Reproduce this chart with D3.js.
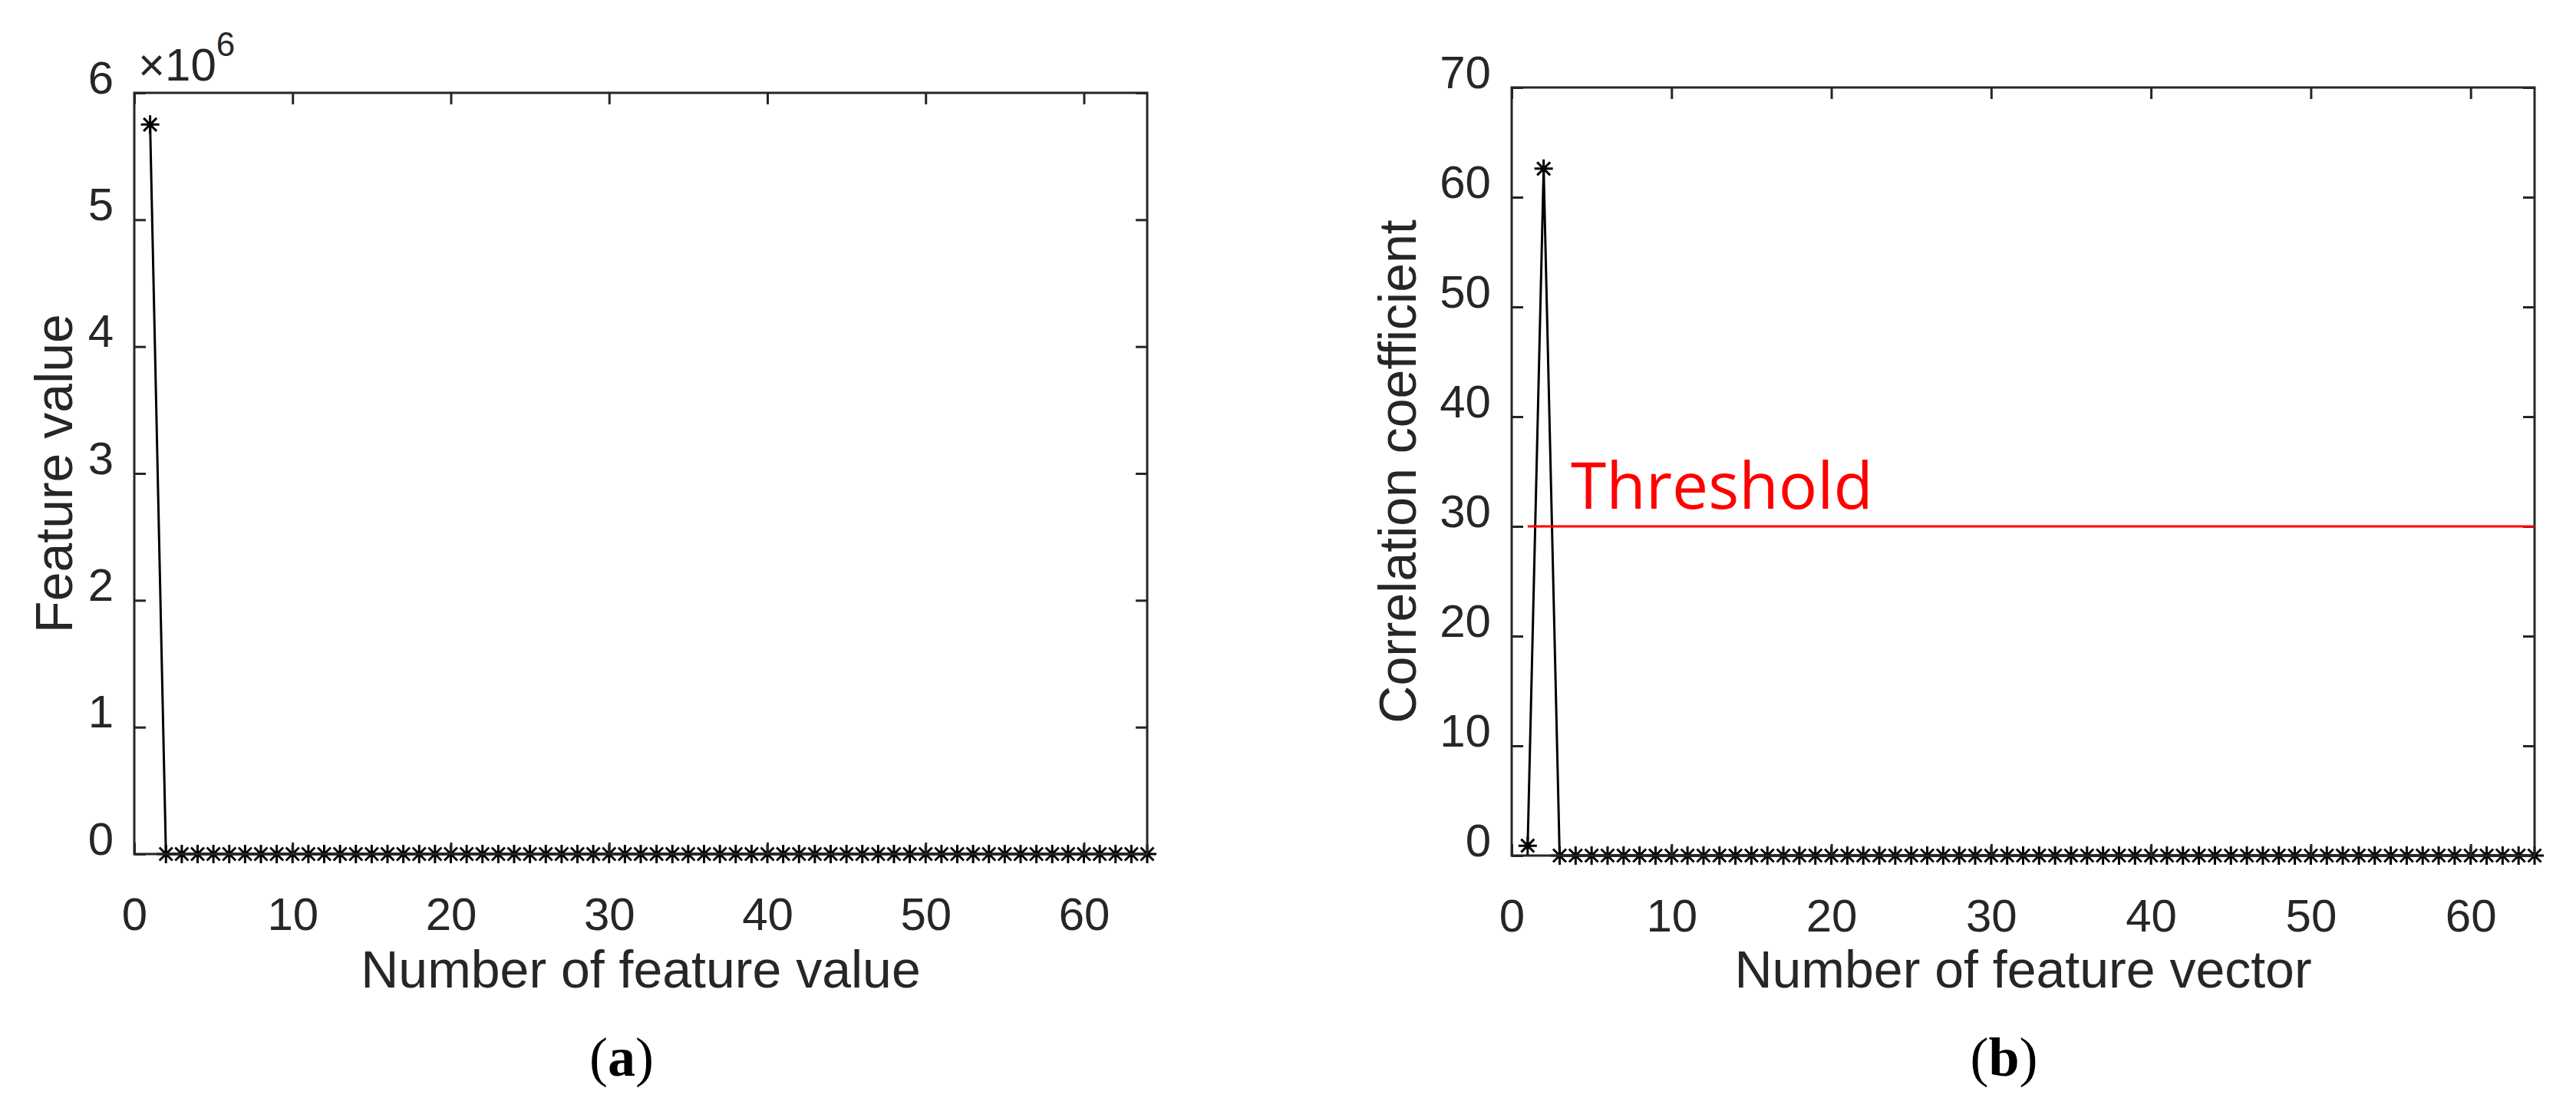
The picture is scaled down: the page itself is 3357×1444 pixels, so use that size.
<!DOCTYPE html>
<html><head><meta charset="utf-8">
<script src="https://cdn.jsdelivr.net/npm/d3@7"></script>
<style>body{margin:0;background:#fff}</style></head>
<body><svg id="c" width="3357" height="1444"></svg>
<script>
const featureValues = [5750000,0,0,0,0,0,0,0,0,0,0,0,0,0,0,0,0,0,0,0,0,0,0,0,0,0,0,0,0,0,0,0,0,0,0,0,0,0,0,0,0,0,0,0,0,0,0,0,0,0,0,0,0,0,0,0,0,0,0,0,0,0,0,0];
const correlationValues = [0.9,62.6,0,0,0,0,0,0,0,0,0,0,0,0,0,0,0,0,0,0,0,0,0,0,0,0,0,0,0,0,0,0,0,0,0,0,0,0,0,0,0,0,0,0,0,0,0,0,0,0,0,0,0,0,0,0,0,0,0,0,0,0,0,0];
const xTicks = [0,10,20,30,40,50,60];
const yTicksA = [0,1,2,3,4,5,6];
const yTicksB = [0,10,20,30,40,50,60,70];
const thresholdValue = 30;

const svg = d3.select("#c");
const AX = "#262626", FONT = "'Liberation Sans', Arial, sans-serif";
const starPath = "M-12,0L12,0M0,-12L0,12M-8.5,-8.5L8.5,8.5M-8.5,8.5L8.5,-8.5";

function panel(o){
  const g = svg.append("g");
  const x = d3.scaleLinear().domain([0,64]).range([o.l,o.r]);
  const y = d3.scaleLinear().domain([0,o.ymax]).range([o.b,o.t]);
  const data = o.values.map((v,i)=>[i+1,v]);
  g.append("path").datum(data).attr("fill","none").attr("stroke","#000").attr("stroke-width",3)
   .attr("d", d3.line().x(d=>x(d[0])).y(d=>y(d[1])));
  g.selectAll(".m").data(data).join("path").attr("d",starPath).attr("stroke","#000").attr("stroke-width",3)
   .attr("transform",d=>`translate(${x(d[0])},${y(d[1])})`);
  const ax = (sel)=>sel.selectAll("text").attr("font-family",FONT).attr("font-size",60).attr("fill",AX);
  const style = (s)=>{s.select(".domain").remove(); s.selectAll("line").attr("stroke",AX).attr("stroke-width",3);};
  g.append("g").attr("transform",`translate(0,${o.b})`).call(d3.axisBottom(x).tickValues(xTicks).tickSize(-15).tickPadding(42)).call(style).call(ax);
  g.append("g").attr("transform",`translate(0,${o.t})`).call(d3.axisTop(x).tickValues(xTicks).tickSize(-15).tickFormat("")).call(style);
  g.append("g").attr("transform",`translate(${o.l},0)`).call(d3.axisLeft(y).tickValues(o.yticks).tickSize(-15).tickPadding(27)).call(style).call(ax);
  g.append("g").attr("transform",`translate(${o.r},0)`).call(d3.axisRight(y).tickValues(o.yticks).tickSize(-15).tickFormat("")).call(style);
  g.selectAll("text").attr("dy",null).filter(function(){return this.parentNode.parentNode.getAttribute("transform").startsWith("translate(0");})
   .attr("dy","0.95em");
  g.append("rect").attr("x",o.l).attr("y",o.t).attr("width",o.r-o.l).attr("height",o.b-o.t)
   .attr("fill","none").attr("stroke",AX).attr("stroke-width",3);
  g.append("text").attr("x",(o.l+o.r)/2).attr("y",1287).attr("text-anchor","middle")
   .attr("font-family",FONT).attr("font-size",68).attr("fill",AX).text(o.xlabel);
  g.append("text").attr("transform",`translate(${o.yl},${(o.t+o.b)/2}) rotate(-90)`).attr("text-anchor","middle")
   .attr("font-family",FONT).attr("font-size",68).attr("fill",AX).text(o.ylabel);
  const cap = g.append("text").attr("x",(o.l+o.r)/2-25).attr("y",1402).attr("text-anchor","middle")
   .attr("font-family","'Liberation Serif', 'Times New Roman', serif").attr("font-size",72).attr("fill","#000");
  cap.append("tspan").text("(");
  cap.append("tspan").attr("font-weight","bold").text(o.cap);
  cap.append("tspan").text(")");
  return {g,x,y};
}

const A = panel({l:175,r:1495,t:121,b:1113,ymax:6e6,values:featureValues,
  yticks:yTicksA.map(v=>v*1e6),xlabel:"Number of feature value",ylabel:"Feature value",yl:94,cap:"a"});
A.g.selectAll("g text").filter(function(){return +this.textContent>=1e5;}).text(function(){return +this.textContent.replace(/,/g,"")/1e6;});
// fix labels formatted with commas
A.g.selectAll("g.tick text").each(function(d){ if(d>=0 && d<=6e6 && this.textContent!=="") { const p=this.parentNode.parentNode.getAttribute("transform"); if(p==="translate(175,0)") d3.select(this).text(d/1e6);} });
const ex = A.g.append("text").attr("x",180).attr("y",105).attr("font-family",FONT).attr("font-size",60).attr("fill",AX);
ex.append("tspan").text("×10");
ex.append("tspan").attr("font-size",44).attr("dy",-32).text("6");

const B = panel({l:1970,r:3303,t:114,b:1115,ymax:70,values:correlationValues,
  yticks:yTicksB,xlabel:"Number of feature vector",ylabel:"Correlation coefficient",yl:1845,cap:"b"});
B.g.append("line").attr("x1",B.x(1)).attr("x2",B.x(64)).attr("y1",B.y(thresholdValue)).attr("y2",B.y(thresholdValue))
 .attr("stroke","#ff0000").attr("stroke-width",3);
B.g.append("text").attr("x",2047).attr("y",663).attr("font-family","'Open Sans', 'Noto Sans', sans-serif")
 .attr("font-size",84).attr("fill","#ff0000").text("Threshold");
</script></body></html>
